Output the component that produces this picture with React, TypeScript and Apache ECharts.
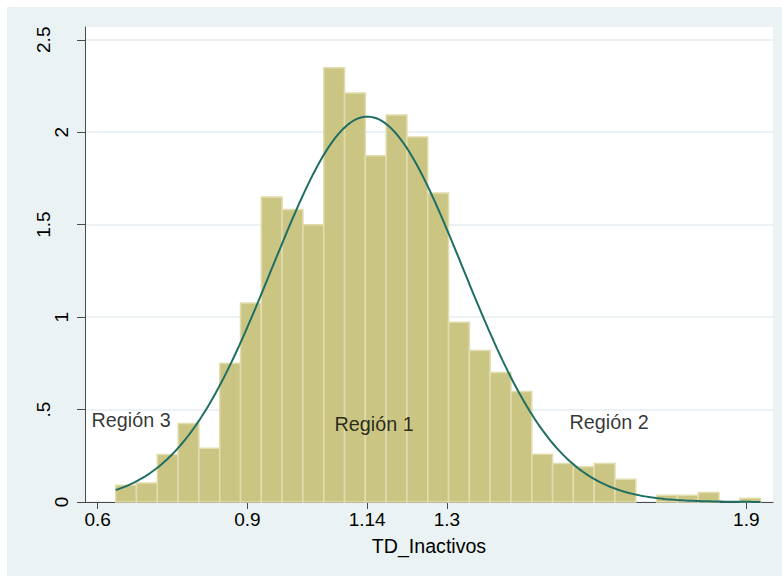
import { useEffect, useRef } from "react";
import * as echarts from "echarts";

// Histogram of TD_Inactivos (density scale) with a fitted normal curve.
const BIN_START = 0.636;
const BIN_WIDTH = 0.0417;
const DENSITY = [
  0.09, 0.103, 0.257, 0.425, 0.291, 0.751, 1.076, 1.649, 1.582, 1.499,
  2.348, 2.212, 1.873, 2.093, 1.974, 1.671, 0.972, 0.82, 0.701, 0.598,
  0.258, 0.208, 0.19, 0.208, 0.123, 0, 0.036, 0.036, 0.052, 0, 0.02,
];

// Parameters of the overlaid normal density.
const NORMAL_MEAN = 1.1406;
const NORMAL_SD = 0.1914;

const X_TICKS = [0.6, 0.9, 1.14, 1.3, 1.9];
const Y_TICKS_WHOLE = [0, 1, 2];
const Y_TICKS_HALF = [0.5, 1.5, 2.5];

const REGION_NAMES = ["Región 3", "Región 1", "Región 2"];
const REGION_X = [0.667, 1.154, 1.625];
const REGION_Y = [0.442, 0.422, 0.433];

const X_MIN = 0.5745;
const X_MAX = 1.9535;
const Y_MAX = 2.569;

const FONT = "'Liberation Sans', Arial, Helvetica, sans-serif";
const BAR_FILL = "#CBC583";
const BAR_EDGE = "#E2DDAF";
const CURVE = "#1F6E64";
const BG = "#EAF2F3";
const AXIS = "#4a4a4a";

function normalPdf(x: number) {
  const z = (x - NORMAL_MEAN) / NORMAL_SD;
  return Math.exp(-0.5 * z * z) / (NORMAL_SD * Math.sqrt(2 * Math.PI));
}

export default function App() {
  const ref = useRef<HTMLDivElement>(null);

  useEffect(() => {
    if (!ref.current) return;
    const chart = echarts.init(ref.current, undefined, { renderer: "svg" });

    const bins = DENSITY.map((d, i) => [
      BIN_START + i * BIN_WIDTH,
      BIN_START + (i + 1) * BIN_WIDTH,
      d,
    ]).filter((b) => b[2] > 0);

    const binEnd = BIN_START + DENSITY.length * BIN_WIDTH;
    const steps = 240;
    const curve: number[][] = [];
    for (let i = 0; i <= steps; i++) {
      const x = BIN_START + ((binEnd - BIN_START) * i) / steps;
      curve.push([x, normalPdf(x)]);
    }

    const regions = REGION_NAMES.map((n, i) => [REGION_X[i], REGION_Y[i], n]);

    const yLabelStyle = {
      fontSize: 19,
      color: "#000",
      fontFamily: FONT,
      rotate: 90,
      lineHeight: 19,
    };

    chart.setOption({
      animation: false,
      backgroundColor: BG,
      textStyle: { fontFamily: FONT },
      grid: {
        left: 78,
        top: 20,
        right: 9,
        bottom: 74,
        show: true,
        backgroundColor: "#fff",
        borderWidth: 0,
      },
      xAxis: {
        type: "value",
        min: X_MIN,
        max: X_MAX,
        name: "TD_Inactivos",
        nameLocation: "middle",
        nameGap: 34,
        nameTextStyle: { fontSize: 19.6, color: "#000", lineHeight: 19 },
        axisLine: { show: true, lineStyle: { color: AXIS, width: 1 } },
        axisTick: {
          show: true,
          customValues: X_TICKS,
          length: 7,
          lineStyle: { color: AXIS },
        },
        axisLabel: {
          customValues: X_TICKS,
          fontSize: 19,
          color: "#000",
          lineHeight: 19,
          margin: 8,
          formatter: (v: number) => String(v),
        },
        splitLine: { show: false },
      },
      yAxis: [
        {
          type: "value",
          min: 0,
          max: Y_MAX,
          interval: 0.5,
          position: "left",
          axisLine: { show: true, lineStyle: { color: AXIS, width: 1 } },
          axisTick: {
            show: true,
            customValues: [...Y_TICKS_WHOLE, ...Y_TICKS_HALF],
            length: 8,
            lineStyle: { color: AXIS },
          },
          axisLabel: {
            ...yLabelStyle,
            customValues: Y_TICKS_WHOLE,
            margin: 14,
            formatter: (v: number) => String(v),
          },
          splitLine: { show: true, lineStyle: { color: "#E4EDF0", width: 1.5 } },
        },
        {
          type: "value",
          min: 0,
          max: Y_MAX,
          interval: 0.5,
          position: "left",
          axisLine: { show: false },
          axisTick: { show: false },
          axisLabel: {
            ...yLabelStyle,
            customValues: Y_TICKS_HALF,
            margin: 32,
            formatter: (v: number) => (v < 1 ? String(v).replace(/^0/, "") : String(v)),
          },
          splitLine: { show: false },
        },
      ],
      series: [
        {
          type: "custom",
          name: "Density",
          data: bins,
          encode: { x: [0, 1], y: 2 },
          renderItem: (_params: any, api: any) => {
            const topLeft = api.coord([api.value(0), api.value(2)]);
            const bottomRight = api.coord([api.value(1), 0]);
            return {
              type: "rect",
              shape: {
                x: topLeft[0],
                y: topLeft[1],
                width: bottomRight[0] - topLeft[0],
                height: bottomRight[1] - topLeft[1],
              },
              style: { fill: BAR_FILL, stroke: BAR_EDGE, lineWidth: 1.5 },
            };
          },
          z: 2,
        },
        {
          type: "line",
          name: "Normal",
          data: curve,
          showSymbol: false,
          symbol: "none",
          lineStyle: { color: CURVE, width: 2 },
          z: 3,
        },
        {
          type: "scatter",
          name: "Regiones",
          data: regions,
          symbolSize: 0,
          label: {
            show: true,
            position: "inside",
            formatter: (p: any) => p.data[2],
            fontSize: 19.8,
            lineHeight: 20,
            color: "#000",
            textBorderWidth: 0,
            fontFamily: FONT,
          },
          z: 4,
        },
      ],
    });

    return () => chart.dispose();
  }, []);

  return (
    <div
      ref={ref}
      style={{ position: "fixed", left: 7, top: 7, width: 775, height: 569 }}
    />
  );
}
